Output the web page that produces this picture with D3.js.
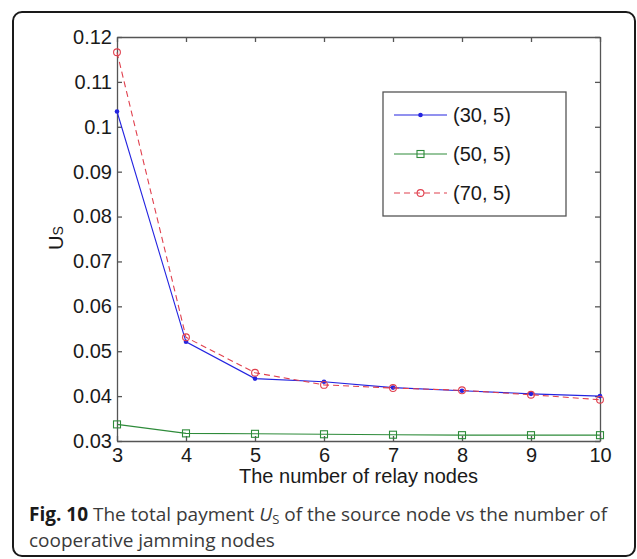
<!DOCTYPE html>
<html>
<head>
<meta charset="utf-8">
<script src="https://cdn.jsdelivr.net/npm/d3@7"></script>
<style>
  body { margin: 0; background: #fff; }
  text { font-family: "Liberation Sans", Arial, sans-serif; }
  .caption text { font-family: "Open Sans", sans-serif; }
</style>
</head>
<body>
<div id="chart"></div>
<script>
// number of relay nodes
var relays = [3, 4, 5, 6, 7, 8, 9, 10];

// total payment U_S for each setting
var us30 = [0.1034, 0.0521, 0.0439, 0.0432, 0.0419, 0.0412, 0.0405, 0.0400];
var us50 = [0.0337, 0.0317, 0.0316, 0.0315, 0.0314, 0.0313, 0.0313, 0.0313];
var us70 = [0.1166, 0.0531, 0.0452, 0.0425, 0.0418, 0.0413, 0.0403, 0.0392];

var seriesNames = ["(30, 5)", "(50, 5)", "(70, 5)"];
var yTicks = [0.03, 0.04, 0.05, 0.06, 0.07, 0.08, 0.09, 0.1, 0.11, 0.12];
var yTickLabels = ["0.03", "0.04", "0.05", "0.06", "0.07", "0.08", "0.09", "0.1", "0.11", "0.12"];

var svg = d3.select("#chart")
  .append("svg")
    .attr("width", 637)
    .attr("height", 559);

// rounded frame round the whole figure
svg.append("rect")
  .attr("x", 13).attr("y", 12)
  .attr("width", 622).attr("height", 544)
  .attr("rx", 9)
  .style("fill", "none")
  .style("stroke", "#1a1a1a")
  .style("stroke-width", 2);

var x = d3.scaleLinear().domain([3, 10]).range([117, 600]);
var y = d3.scaleLinear().domain([0.03, 0.12]).range([441, 37]);

var axisColor = "#555";

function styleAxis(g){
  g.selectAll("path, line").style("stroke", axisColor).style("stroke-width", 1.3);
  g.selectAll("text").style("font-size", "20px").style("fill", "#1a1a1a")
    .style("font-family", '"Liberation Sans", Arial, sans-serif');
}

// bottom and left axes with labels, ticks pointing inward
svg.append("g")
  .attr("transform", "translate(0,441)")
  .call(d3.axisBottom(x).tickValues(relays).tickFormat(d3.format("d"))
    .tickSizeInner(-5).tickSizeOuter(0).tickPadding(7))
  .call(styleAxis);

svg.append("g")
  .attr("transform", "translate(117,0)")
  .call(d3.axisLeft(y).tickValues(yTicks).tickFormat(function(d, i){ return yTickLabels[i]; })
    .tickSizeInner(-5).tickSizeOuter(0).tickPadding(5))
  .call(styleAxis);

// top and right: ticks only
svg.append("g")
  .attr("transform", "translate(0,37)")
  .call(d3.axisTop(x).tickValues(relays).tickFormat("").tickSizeInner(-5).tickSizeOuter(0))
  .call(styleAxis);

svg.append("g")
  .attr("transform", "translate(600,0)")
  .call(d3.axisRight(y).tickValues(yTicks).tickFormat("").tickSizeInner(-5).tickSizeOuter(0))
  .call(styleAxis);

// axis titles
svg.append("text")
  .attr("x", 358.5).attr("y", 483)
  .attr("text-anchor", "middle")
  .style("font-size", "20px")
  .style("fill", "#1a1a1a")
  .text("The number of relay nodes");

var ylab = svg.append("text")
  .attr("transform", "translate(63,238) rotate(-90)")
  .attr("text-anchor", "middle")
  .style("font-size", "20px")
  .style("fill", "#1a1a1a");
ylab.append("tspan").text("U");
ylab.append("tspan").style("font-size", "14px").text("S");

// the three series
var series = [
  { name: seriesNames[0], values: us30, color: "#2424e0", dash: null, marker: "dot" },
  { name: seriesNames[1], values: us50, color: "#2e8b3a", dash: null, marker: "square" },
  { name: seriesNames[2], values: us70, color: "#e0404e", dash: "6,4", marker: "circle" }
];

var line = d3.line()
  .x(function(d){ return x(d[0]); })
  .y(function(d){ return y(d[1]); });

function drawMarker(g, s, cx, cy){
  if(s.marker == "dot"){
    g.append("circle").attr("cx", cx).attr("cy", cy).attr("r", 2.3).style("fill", s.color);
  } else if(s.marker == "square"){
    g.append("rect").attr("x", cx - 3.5).attr("y", cy - 3.5).attr("width", 7).attr("height", 7)
      .style("fill", "none").style("stroke", s.color).style("stroke-width", 1.1);
  } else {
    g.append("circle").attr("cx", cx).attr("cy", cy).attr("r", 3.4)
      .style("fill", "none").style("stroke", s.color).style("stroke-width", 1.1);
  }
}

series.forEach(function(s){
  var pts = relays.map(function(r, i){ return [r, s.values[i]]; });
  var g = svg.append("g");
  g.append("path")
    .attr("d", line(pts))
    .style("fill", "none")
    .style("stroke", s.color)
    .style("stroke-width", 1.1)
    .style("stroke-dasharray", s.dash);
  pts.forEach(function(p){
    drawMarker(g, s, x(p[0]), y(p[1]));
  });
});

// legend
var legend = svg.append("g");
legend.append("rect")
  .attr("x", 383).attr("y", 92)
  .attr("width", 183).attr("height", 124)
  .style("fill", "#fff")
  .style("stroke", axisColor)
  .style("stroke-width", 1.3);

series.forEach(function(s, i){
  var ly = 115 + i * 39;
  var g = legend.append("g");
  g.append("line")
    .attr("x1", 394).attr("x2", 447).attr("y1", ly).attr("y2", ly)
    .style("stroke", s.color)
    .style("stroke-width", 1.1)
    .style("stroke-dasharray", s.dash);
  drawMarker(g, s, 420.5, ly);
  g.append("text")
    .attr("x", 453).attr("y", ly)
    .attr("dy", "0.35em")
    .style("font-size", "20px")
    .style("fill", "#1a1a1a")
    .text(s.name);
});

// figure caption
var cap = svg.append("g").attr("class", "caption");
var l1 = cap.append("text")
  .attr("x", 29).attr("y", 521)
  .style("font-size", "19px")
  .style("fill", "#3a3a3a");
l1.append("tspan").style("font-weight", "bold").style("fill", "#1a1a1a").text("Fig. 10");
l1.append("tspan").text(" The total payment ");
l1.append("tspan").style("font-style", "italic").text("U");
l1.append("tspan").style("font-size", "13px").attr("dy", 3).text("S");
l1.append("tspan").attr("dy", -3).text(" of the source node vs the number of");

cap.append("text")
  .attr("x", 29).attr("y", 547)
  .style("font-size", "19px")
  .style("fill", "#3a3a3a")
  .text("cooperative jamming nodes");
</script>
</body>
</html>
